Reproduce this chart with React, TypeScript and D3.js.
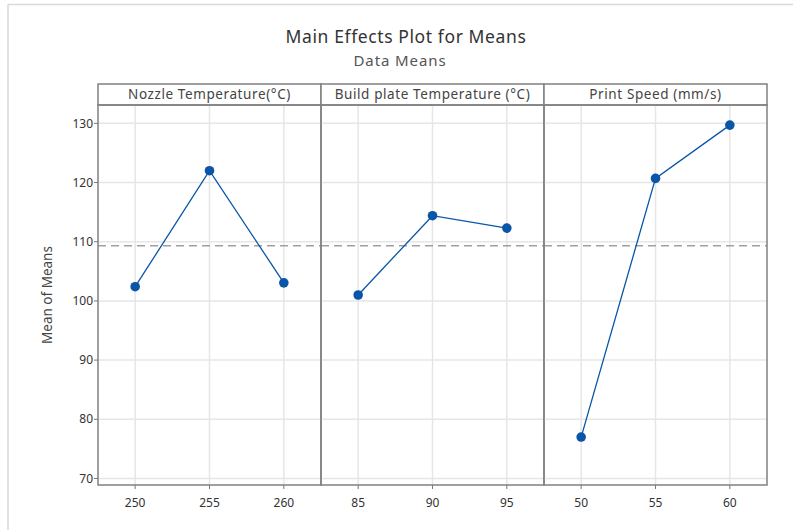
import React from 'react';
import * as d3 from 'd3';

// factor names and their levels
const factors = ['Nozzle Temperature(°C)', 'Build plate Temperature (°C)', 'Print Speed (mm/s)'];
const nozzleLevels = [250, 255, 260];
const bedLevels = [85, 90, 95];
const speedLevels = [50, 55, 60];

// means of means at each level
const nozzleMeans = [102.4, 122.0, 103.05];
const bedMeans = [101.0, 114.4, 112.3];
const speedMeans = [77.0, 120.7, 129.7];

const grandMean = 109.3;
const yTicks = [70, 80, 90, 100, 110, 120, 130];

const W = 793;
const H = 530;
const FONT = '"Noto Sans", "Open Sans", sans-serif';
const BLUE = '#0a55a8';

export default function App() {
  const margin = { top: 84, left: 98, right: 26, bottom: 45 };
  const stripH = 21;
  const plotTop = margin.top + stripH;
  const plotBottom = H - margin.bottom;
  const panelW = (W - margin.left - margin.right) / factors.length;

  const y = d3.scaleLinear().domain([68.9, 133.1]).range([plotBottom, plotTop]);

  const panels = [
    { name: factors[0], levels: nozzleLevels, means: nozzleMeans },
    { name: factors[1], levels: bedLevels, means: bedMeans },
    { name: factors[2], levels: speedLevels, means: speedMeans },
  ];

  return (
    <svg width={W} height={H} style={{ position: 'absolute', left: 0, top: 0, background: '#fff' }} fontFamily={FONT}>
      {/* outer frame */}
      <line x1={8} y1={4.5} x2={W} y2={4.5} stroke="#d9d9d9" strokeWidth={1.5} />
      <line x1={8} y1={4.5} x2={8} y2={H} stroke="#d9d9d9" strokeWidth={1.5} />

      <text x={406} y={43} textAnchor="middle" fontSize={17.5} letterSpacing={0.6} fill="#333">Main Effects Plot for Means</text>
      <text x={400} y={66} textAnchor="middle" fontSize={15} letterSpacing={0.9} fill="#555">Data Means</text>

      <text transform={`translate(52,${(plotTop + plotBottom) / 2}) rotate(-90)`} textAnchor="middle" fontSize={13.5} fill="#444">Mean of Means</text>

      {/* y ticks */}
      {yTicks.map(t => (
        <g key={t}>
          <line x1={margin.left - 4} x2={margin.left} y1={y(t)} y2={y(t)} stroke="#777" />
          <text x={margin.left - 5} y={y(t)} dy="0.35em" textAnchor="end" fontSize={12} fill="#333">{t}</text>
        </g>
      ))}

      {panels.map((p, i) => {
        const x0 = margin.left + i * panelW;
        const step = p.levels[1] - p.levels[0];
        const x = d3.scaleLinear()
          .domain([p.levels[0] - step / 2, p.levels[p.levels.length - 1] + step / 2])
          .range([x0, x0 + panelW]);
        const line = d3.line<number>()
          .x((_, j) => x(p.levels[j]))
          .y(d => y(d));
        return (
          <g key={p.name}>
            {/* grid */}
            {yTicks.map(t => (
              <line key={t} x1={x0} x2={x0 + panelW} y1={y(t)} y2={y(t)} stroke="#e6e6e6" strokeWidth={1.5} />
            ))}
            {p.levels.map(l => (
              <line key={l} x1={x(l)} x2={x(l)} y1={plotTop} y2={plotBottom} stroke="#e6e6e6" strokeWidth={1.5} />
            ))}
            {/* grand mean reference */}
            <line x1={x0} x2={x0 + panelW} y1={y(grandMean)} y2={y(grandMean)} stroke="#a0a0a0" strokeWidth={1.5} strokeDasharray="8,5" />
            <path d={line(p.means) || ''} fill="none" stroke={BLUE} strokeWidth={1.3} />
            {p.means.map((m, j) => (
              <circle key={j} cx={x(p.levels[j])} cy={y(m)} r={4.8} fill={BLUE} />
            ))}
            {/* x ticks */}
            {p.levels.map(l => (
              <g key={'t' + l}>
                <line x1={x(l)} x2={x(l)} y1={plotBottom} y2={plotBottom + 4} stroke="#777" />
                <text x={x(l)} y={plotBottom + 22} textAnchor="middle" fontSize={12} fill="#333">{l}</text>
              </g>
            ))}
            {/* strip + frame */}
            <rect x={x0} y={margin.top} width={panelW} height={stripH} fill="#fff" stroke="#808080" strokeWidth={1.5} />
            <text x={x0 + panelW / 2} y={margin.top + 15} textAnchor="middle" fontSize={13.5} letterSpacing={0.6} fill="#444">{p.name}</text>
            <rect x={x0} y={plotTop} width={panelW} height={plotBottom - plotTop} fill="none" stroke="#808080" strokeWidth={1.5} />
          </g>
        );
      })}
    </svg>
  );
}
